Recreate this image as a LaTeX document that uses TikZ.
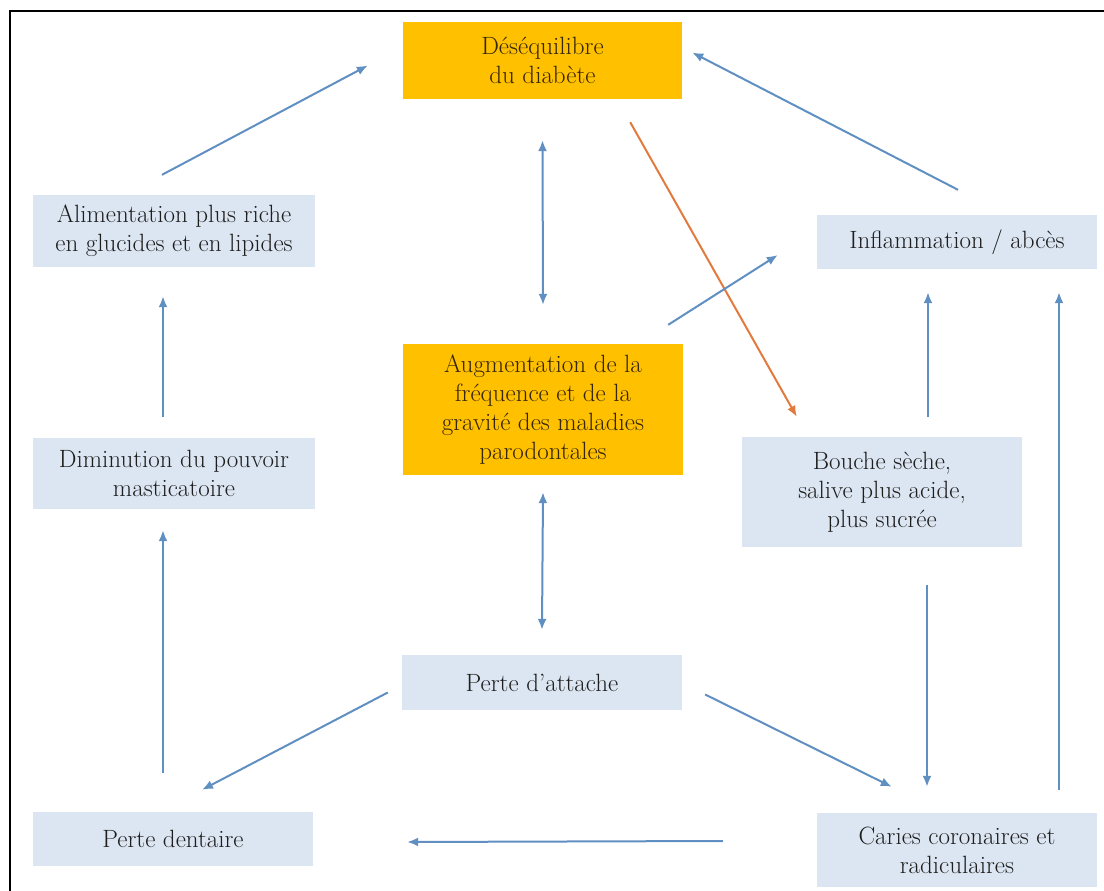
\documentclass[tikz,border=0pt]{standalone}
\usetikzlibrary{arrows.meta}
\definecolor{PaleBlue}{RGB}{220,230,242}
\definecolor{Amber}{RGB}{255,192,0}
\definecolor{ArrowBlue}{RGB}{96,143,193}
\definecolor{Rust}{RGB}{226,122,62}
\definecolor{InkGray}{RGB}{30,30,30}
\definecolor{InkBrown}{RGB}{55,38,5}

\tikzset{
  box/.style={fill=PaleBlue, text=InkGray, align=center, inner sep=0pt,
    font=\fontsize{25}{29}\selectfont},
  hot/.style={box, fill=Amber, text=InkBrown},
  arr/.style={line width=2pt, ArrowBlue, -{Latex[length=11pt,width=9pt]}},
  both/.style={arr, {Latex[length=11pt,width=9pt]}-{Latex[length=11pt,width=9pt]}},
  warm/.style={arr, Rust}
}

\begin{document}
\begin{tikzpicture}[x=1pt,y=-1pt]
%\draw[help lines] (0,0) grid[step=50] (1104,891);
\useasboundingbox (0,0) rectangle (1104,891);
\draw[line width=1.5pt] (10,891) -- (10,11) -- (1104,11);

\node[hot, minimum width=279, minimum height=77] (deseq) at (542.5,60.5) {Déséquilibre\\du diabète};
\node[box, minimum width=282, minimum height=72] (alim) at (174,231) {Alimentation plus riche\\en glucides et en lipides};
\node[box, minimum width=280, minimum height=54] (infl) at (957,242) {Inflammation / abcès};
\node[hot, minimum width=280, minimum height=131] (augm) at (543,409.5) {Augmentation de la\\fréquence et de la\\gravité des maladies\\parodontales};
\node[box, minimum width=282, minimum height=71] (dimin) at (174,473.5) {Diminution du pouvoir\\masticatoire};
\node[box, minimum width=280, minimum height=110] (bouche) at (882,492) {Bouche sèche,\\salive plus acide,\\plus sucrée};
\node[box, minimum width=280, minimum height=55] (attache) at (542,682.5) {Perte d’attache};
\node[box, minimum width=280, minimum height=54] (dentaire) at (173,839) {Perte dentaire};
\node[box, minimum width=280, minimum height=74] (caries) at (957,850) {Caries coronaires et\\radiculaires};

\draw[arr] ([shift={(-12,-20)}]alim.north) -- ([shift={(-35,5)}]deseq.west);
\draw[arr] ([shift={(1,-25)}]infl.north) -- ([shift={(10,-8)}]deseq.east);
\draw[both] ([shift={(0,41)}]deseq.south) -- ([shift={(0,-39)}]augm.north);
\draw[warm] ([shift={(-52,23)}]deseq.south east) -- ([shift={(55,-20)}]bouche.north west);
\draw[arr] ([shift={(-15,-19)}]augm.north east) -- ([shift={(-39,13)}]infl.west);
\draw[arr] ([shift={(-11,-21)}]dimin.north) -- ([shift={(-11,29)}]alim.south);
\draw[arr] ([shift={(-10,-39)}]dentaire.north) -- ([shift={(-11,21)}]dimin.south);
\draw[both] ([shift={(0,17)}]augm.south) -- ([shift={(0,-25)}]attache.north);
\draw[arr] ([shift={(46,-20)}]bouche.north) -- ([shift={(-29,23)}]infl.south);
\draw[arr] ([shift={(102,-23)}]caries.north) -- ([shift={(102,23)}]infl.south);
\draw[arr] ([shift={(45,38)}]bouche.south) -- ([shift={(-30,-26)}]caries.north);
\draw[arr] ([shift={(-14,10)}]attache.west) -- ([shift={(29,-22)}]dentaire.north);
\draw[arr] ([shift={(23,12)}]attache.east) -- ([shift={(75,-26)}]caries.north west);
\draw[arr] ([shift={(-94,-9)}]caries.west) -- ([shift={(94,3)}]dentaire.east);
\end{tikzpicture}
\end{document}
